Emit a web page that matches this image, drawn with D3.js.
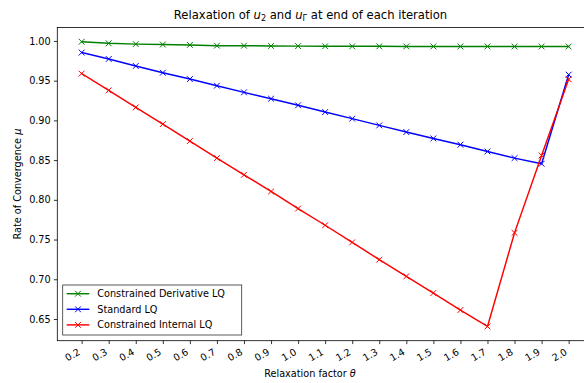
<!DOCTYPE html>
<html>
<head>
<meta charset="utf-8">
<script src="https://cdn.jsdelivr.net/npm/d3@7"></script>
<style>
  html, body { margin: 0; padding: 0; background: #fff; }
  svg { display: block; font-family: "DejaVu Sans", sans-serif; }
</style>
</head>
<body>
<svg id="chart" width="584" height="383"></svg>
<script>
// Relaxation factors (x) and convergence rates for each method
const theta = [0.2, 0.3, 0.4, 0.5, 0.6, 0.7, 0.8, 0.9, 1.0, 1.1, 1.2, 1.3, 1.4, 1.5, 1.6, 1.7, 1.8, 1.9, 2.0];
const constrainedDerivative = [0.999, 0.997, 0.996, 0.9955, 0.995, 0.994, 0.994, 0.9937, 0.9935, 0.9933, 0.9932, 0.9932, 0.9931, 0.9931, 0.9931, 0.9931, 0.993, 0.993, 0.993];
const standard = [0.9854, 0.9773, 0.9685, 0.960, 0.952, 0.9437, 0.9353, 0.9273, 0.919, 0.9105, 0.9022, 0.8937, 0.8853, 0.8773, 0.8694, 0.8609, 0.8525, 0.8454, 0.9576];
const constrainedInternal = [0.9589, 0.9378, 0.9164, 0.8953, 0.874, 0.8525, 0.8315, 0.8105, 0.789, 0.768, 0.7465, 0.7247, 0.7037, 0.6827, 0.6613, 0.6406, 0.7584, 0.8559, 0.9517];
const seriesNames = ["Constrained Derivative LQ", "Standard LQ", "Constrained Internal LQ"];
const seriesColors = ["#008000", "#0000ff", "#ff0000"];
const xTicks = theta;
const yTicks = [0.65, 0.70, 0.75, 0.80, 0.85, 0.90, 0.95, 1.00];

const series = [constrainedDerivative, standard, constrainedInternal].map((vals, i) => ({
  name: seriesNames[i],
  color: seriesColors[i],
  points: vals.map((v, j) => ({ x: theta[j], y: v }))
}));

const svg = d3.select("#chart");
const plot = { left: 57.3, right: 593, top: 27.5, bottom: 340.7 };

// 5% padding on both axes around the data range
const xMin = d3.min(theta), xMax = d3.max(theta);
const xPad = (xMax - xMin) * 0.05;
const allY = [].concat(constrainedDerivative, standard, constrainedInternal);
const yMin = d3.min(allY), yMax = d3.max(allY);
const yPad = (yMax - yMin) * 0.05;

const x = d3.scaleLinear().domain([xMin - xPad, xMax + xPad]).range([plot.left, plot.right]);
const y = d3.scaleLinear().domain([yMin - yPad, yMax + yPad]).range([plot.bottom, plot.top]);

const tickFont = 9.7;

// Axes frame (left, bottom, top spines; right spine falls outside the canvas)
const frame = svg.append("g");
frame.append("rect")
  .attr("x", plot.left).attr("y", plot.top)
  .attr("width", plot.right - plot.left).attr("height", plot.bottom - plot.top)
  .attr("fill", "none").attr("stroke", "#000").attr("stroke-width", 0.8);

// Y axis
const yAxis = svg.append("g")
  .attr("transform", `translate(${plot.left},0)`)
  .call(d3.axisLeft(y).tickValues(yTicks).tickFormat(d3.format(".2f")).tickSize(3.4).tickPadding(3.2));
yAxis.select(".domain").remove();
yAxis.selectAll(".tick line").attr("stroke", "#000").attr("stroke-width", 0.8);
yAxis.selectAll(".tick text").attr("font-size", tickFont).attr("fill", "#000")
  .attr("font-family", "DejaVu Sans");

// X axis with rotated labels
const xAxis = svg.append("g")
  .attr("transform", `translate(0,${plot.bottom})`)
  .call(d3.axisBottom(x).tickValues(xTicks).tickFormat(d3.format(".1f")).tickSize(3.4));
xAxis.select(".domain").remove();
xAxis.selectAll(".tick line").attr("stroke", "#000").attr("stroke-width", 0.8);
xAxis.selectAll(".tick text")
  .attr("font-size", tickFont).attr("fill", "#000").attr("font-family", "DejaVu Sans")
  .attr("text-anchor", "end")
  .attr("dy", null)
  .attr("y", null)
  .attr("transform", "translate(-1.2,13.2) rotate(-30)");

// Lines and x markers
const line = d3.line().x(d => x(d.x)).y(d => y(d.y));
const markerHalf = 2.9;
const xMarkPath = (cx, cy) =>
  `M${cx - markerHalf},${cy - markerHalf}L${cx + markerHalf},${cy + markerHalf}` +
  `M${cx - markerHalf},${cy + markerHalf}L${cx + markerHalf},${cy - markerHalf}`;

const gSeries = svg.append("g");
series.forEach(s => {
  const g = gSeries.append("g");
  g.append("path").datum(s.points)
    .attr("d", line).attr("fill", "none")
    .attr("stroke", s.color).attr("stroke-width", 1.46)
    .attr("stroke-linejoin", "round").attr("stroke-linecap", "square");
  g.selectAll("path.mark").data(s.points).enter().append("path")
    .attr("class", "mark")
    .attr("d", d => xMarkPath(x(d.x), y(d.y)))
    .attr("stroke", s.color).attr("stroke-width", 1).attr("fill", "none");
});

// Title with italic subscripted symbols
const title = svg.append("text")
  .attr("x", 310.5).attr("y", 18.5)
  .attr("text-anchor", "middle").attr("font-size", 11.6).attr("fill", "#000");
title.append("tspan").text("Relaxation of ");
title.append("tspan").attr("font-style", "italic").text("u");
title.append("tspan").attr("font-size", 8.1).attr("dy", 2.4).text("2");
title.append("tspan").attr("dy", -2.4).text(" and ");
title.append("tspan").attr("font-style", "italic").text("u");
title.append("tspan").attr("font-size", 8.1).attr("dy", 2.4).text("\u0393");
title.append("tspan").attr("dy", -2.4).text(" at end of each iteration");

// Axis labels
const xLabel = svg.append("text")
  .attr("x", 310).attr("y", 377)
  .attr("text-anchor", "middle").attr("font-size", tickFont).attr("fill", "#000");
xLabel.append("tspan").text("Relaxation factor ");
xLabel.append("tspan").attr("font-style", "italic").text("\u03b8");

const yLabel = svg.append("text")
  .attr("transform", `translate(20.5,${(plot.top + plot.bottom) / 2}) rotate(-90)`)
  .attr("text-anchor", "middle").attr("font-size", tickFont).attr("fill", "#000");
yLabel.append("tspan").text("Rate of Convergence ");
yLabel.append("tspan").attr("font-style", "italic").text("\u03bc");

// Legend in the lower-left corner
const legend = svg.append("g").attr("transform", "translate(62.7,285)");
legend.append("rect")
  .attr("width", 179).attr("height", 50)
  .attr("fill", "#fff").attr("fill-opacity", 0.8)
  .attr("stroke", "#333").attr("stroke-width", 0.8);
series.forEach((s, i) => {
  const ry = 8.7 + i * 15.6;
  legend.append("line")
    .attr("x1", 4).attr("x2", 26.6).attr("y1", ry).attr("y2", ry)
    .attr("stroke", s.color).attr("stroke-width", 1.46);
  legend.append("path").attr("d", xMarkPath(15.3, ry))
    .attr("stroke", s.color).attr("stroke-width", 1).attr("fill", "none");
  legend.append("text")
    .attr("x", 34.6).attr("y", ry + 3.5)
    .attr("font-size", tickFont).attr("fill", "#000").text(s.name);
});
</script>
</body>
</html>
